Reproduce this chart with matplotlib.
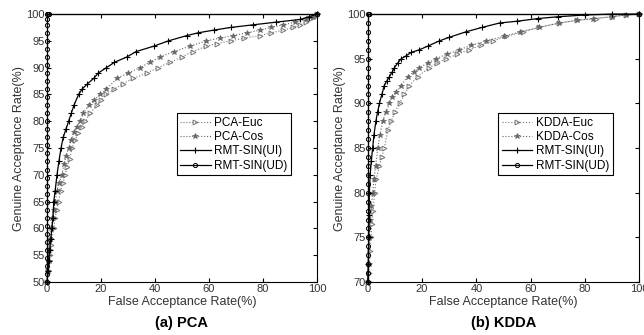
import matplotlib
matplotlib.use('Agg')
import matplotlib.pyplot as plt

plt.rcParams['font.family'] = ['Liberation Sans', 'DejaVu Sans']

# ---- (a) PCA ----
pca_euc_far = [0, 0.5, 0.9, 1.2, 1.6, 2.5, 3, 3.6, 4.3, 5, 5.9, 6.8, 7.5, 8.4, 9.3, 10.5, 11.5, 12.8, 14.2, 16,
               18.5, 20, 22, 25, 28, 32, 37, 41, 45.7, 50, 54, 59, 63, 68, 73, 79, 83, 87.6, 91, 93.8, 96, 97.5, 99, 100]
pca_euc_gar = [50, 52, 54, 55, 57, 60, 62, 63.5, 65, 67, 68.5, 70, 71.5, 73, 75, 76.5, 77.8, 79, 80, 81.5,
               83, 84, 85, 86, 87, 88, 89, 90, 91, 92, 93, 94, 94.5, 95, 95.5, 96, 96.5, 97, 97.5, 98, 98.5, 99, 99.5, 100]
pca_cos_far = [0, 0.3, 0.6, 0.9, 1.2, 1.5, 2, 2.5, 3, 3.7, 4.5, 5.5, 6.3, 7, 8, 9, 10, 11, 12.3, 13.5, 15.4,
               17.5, 19.8, 22, 26, 30, 34.6, 38, 42, 47, 53, 59, 64, 69, 74, 79, 83, 87.6, 92, 96, 98.5, 100]
pca_cos_gar = [50, 52, 54, 56, 58, 60, 62, 63.5, 65, 67, 68.5, 70, 72, 73.5, 75, 76.5, 78, 79, 80, 81.5, 83,
               84, 85, 86, 88, 89, 90, 91, 92, 93, 94, 95, 95.5, 96, 96.5, 97, 97.5, 98, 98.5, 99, 99.5, 100]
pca_ui_far = [0, 0.3, 0.6, 1, 1.4, 1.8, 2.2, 2.5, 3, 3.7, 4.4, 5.2, 6, 7, 8, 9, 10, 11.7, 13, 15, 17.3, 19,
              22, 25, 29.6, 33, 39.5, 45, 51.9, 56, 61.7, 68, 76.5, 85, 93.8, 97, 100]
pca_ui_gar = [50, 52, 54, 56, 58, 60, 62, 65, 67, 70, 72.5, 75, 77, 78.5, 80, 81.5, 83, 85, 86, 87, 88, 89,
              90, 91, 92, 93, 94, 95, 96, 96.5, 97, 97.5, 98, 98.5, 99, 99.5, 100]
pca_ud_far = [0, 0, 0, 0, 0, 0, 0, 0, 0, 0, 0, 0, 0, 0, 0, 0, 0, 0, 0, 0, 0, 0, 0, 0, 0, 0, 0, 0, 0, 0, 0,
              0, 0, 0, 0, 0.3, 0.6, 100]
pca_ud_gar = [50, 51.5, 53, 54.5, 56, 57.5, 59, 60.5, 62, 63.5, 65, 66.5, 68, 69.5, 71, 72.5, 74, 75.5, 77,
              78.5, 80, 81.5, 83, 84.5, 86, 87.5, 89, 90.5, 92, 93.5, 95, 96.5, 98, 99, 100, 100, 100, 100]

# ---- (b) KDDA ----
kdda_euc_far = [0, 0.3, 0.6, 0.9, 1.2, 1.5, 2, 2.5, 3.1, 4.3, 5.2, 6.1, 7.4, 8.6, 10, 11.7, 13.5, 15.3, 18.4,
                22.7, 25.5, 28.8, 33, 37.4, 41.5, 46, 51, 57, 63, 70.5, 77, 84, 90, 95, 100]
kdda_euc_gar = [70, 71, 72, 73.5, 75, 76.5, 78, 80, 81.5, 83, 84, 85, 87, 88, 89, 90, 91, 92, 93,
                94, 94.5, 95, 95.5, 96, 96.5, 97, 97.5, 98, 98.5, 99, 99.3, 99.5, 99.7, 99.9, 100]
kdda_cos_far = [0, 0.3, 0.6, 1, 1.3, 1.8, 2.3, 2.9, 3.7, 4.5, 5.5, 6.7, 8, 9, 10.5, 12.3, 14.7, 17, 19, 22,
                25, 29, 33.7, 38, 43.6, 50, 56, 63, 70.5, 77, 83, 90, 95, 100]
kdda_cos_gar = [70, 72, 75, 77, 78.5, 80, 81.5, 83, 85, 86.5, 88, 89, 90, 90.7, 91.3, 92, 93, 93.5, 94, 94.5,
                95, 95.5, 96, 96.5, 97, 97.5, 98, 98.5, 99, 99.3, 99.5, 99.7, 99.9, 100]
kdda_ui_far = [0, 0.2, 0.4, 0.5, 0.6, 0.9, 1.3, 1.8, 2.3, 3, 3.6, 4.3, 5.2, 6.1, 7, 8, 9, 9.8, 11, 12.3, 14,
               16, 19, 22, 26.4, 30, 36, 42, 48.5, 55, 62.6, 70, 80, 90, 100]
kdda_ui_gar = [70, 72, 75, 77.5, 80, 82, 83.5, 85, 86.5, 88, 89, 90, 91, 92, 92.5, 93, 93.5, 94, 94.5, 95, 95.3,
               95.7, 96, 96.4, 97, 97.4, 98, 98.5, 99, 99.2, 99.5, 99.7, 99.9, 100, 100]
kdda_ud_far = [0, 0, 0, 0, 0, 0, 0, 0, 0, 0, 0, 0, 0, 0, 0, 0, 0, 0, 0, 0, 0, 0, 0, 0, 0, 0, 0, 0, 0, 0, 0,
               0.3, 0.6, 100]
kdda_ud_gar = [70, 71, 72, 73, 74, 75, 76, 77, 78, 79, 80, 81, 82, 83, 84, 85, 86, 87, 88, 89, 90, 91, 92,
               93, 94, 95, 96, 97, 98, 99, 100, 100, 100, 100]

fig = plt.figure(figsize=(6.44, 3.35), dpi=100)
ax1 = fig.add_axes([0.073, 0.158, 0.419, 0.8])
ax2 = fig.add_axes([0.571, 0.158, 0.422, 0.8])


def draw(ax, name, euc, cos, ui, ud, ymin, yticks):
    ax.plot(euc[0], euc[1], ':', color='#777777', lw=0.8, marker='>', ms=3.5, mfc='none',
            mec='#777777', mew=0.7, label=name + '-Euc', clip_on=False)
    ax.plot(cos[0], cos[1], ':', color='#666666', lw=0.8, marker='*', ms=4, mfc='#666666',
            mec='#666666', mew=0.5, label=name + '-Cos', clip_on=False)
    ax.plot(ui[0], ui[1], '-', color='black', lw=0.9, marker='+', ms=4, mew=0.8,
            label='RMT-SIN(UI)', clip_on=False)
    ax.plot(ud[0], ud[1], '-', color='black', lw=0.9, marker='o', ms=3, mfc='none', mew=0.7,
            label='RMT-SIN(UD)', clip_on=False)
    ax.set_xlim(0, 100)
    ax.set_ylim(ymin, 100)
    ax.set_xticks([0, 20, 40, 60, 80, 100])
    ax.set_yticks(yticks)
    ax.tick_params(direction='in', top=True, right=True, labelsize=8, length=3, pad=1.5,
                   labelcolor='#333333')
    ax.set_xlabel('False Acceptance Rate(%)', fontsize=9, labelpad=1, color='#333333')
    ax.set_ylabel('Genuine Acceptance Rate(%)', fontsize=9, labelpad=1, color='#333333')
    for s in ax.spines.values():
        s.set_linewidth(0.8)
    leg = ax.legend(loc='upper left', bbox_to_anchor=(0.48, 0.63), fontsize=8.5, numpoints=1,
                    handlelength=2.6, handletextpad=0.3, borderpad=0.3, labelspacing=0.2,
                    fancybox=False, framealpha=1, edgecolor='black', borderaxespad=0)
    leg.get_frame().set_linewidth(0.8)


draw(ax1, 'PCA', (pca_euc_far, pca_euc_gar), (pca_cos_far, pca_cos_gar),
     (pca_ui_far, pca_ui_gar), (pca_ud_far, pca_ud_gar), 50, [50, 55, 60, 65, 70, 75, 80, 85, 90, 95, 100])
draw(ax2, 'KDDA', (kdda_euc_far, kdda_euc_gar), (kdda_cos_far, kdda_cos_gar),
     (kdda_ui_far, kdda_ui_gar), (kdda_ud_far, kdda_ud_gar), 70, [70, 75, 80, 85, 90, 95, 100])

fig.text(0.282, 0.025, '(a) PCA', ha='center', fontsize=10.5, fontweight='bold')
fig.text(0.782, 0.025, '(b) KDDA', ha='center', fontsize=10.5, fontweight='bold')

fig.savefig('out.png', dpi=100)
